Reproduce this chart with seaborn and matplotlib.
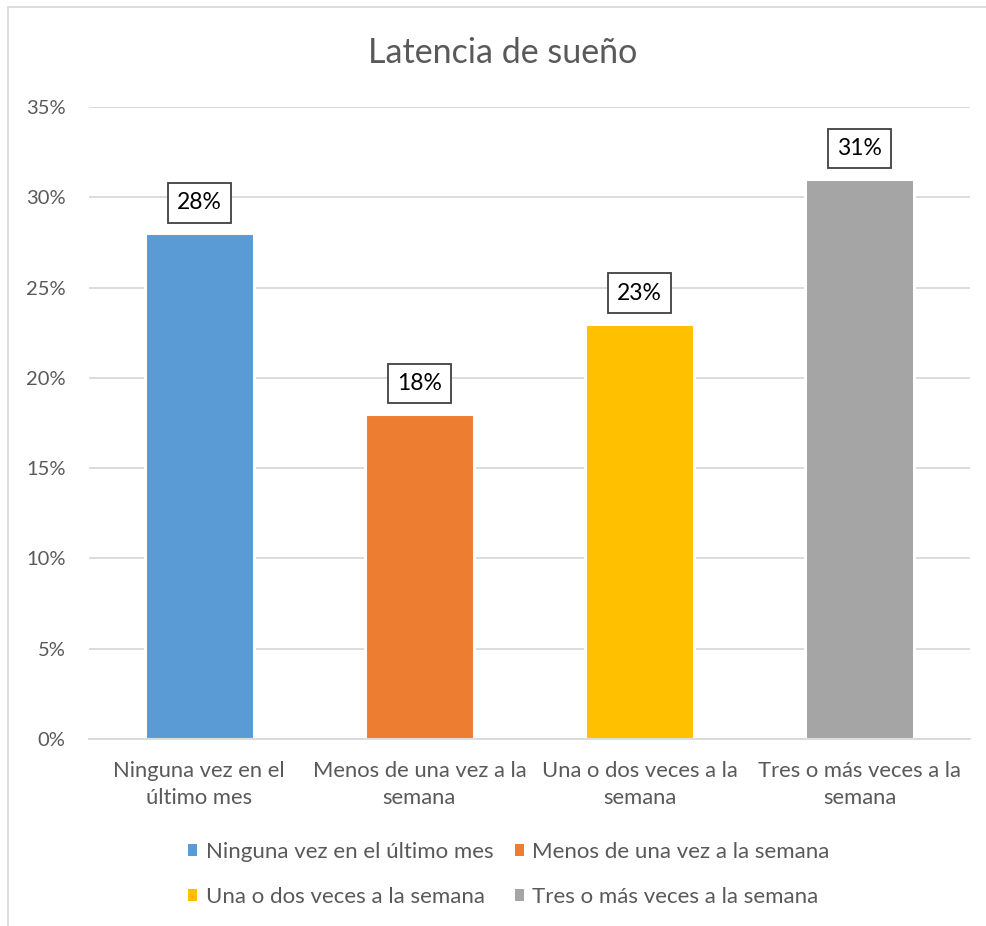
import matplotlib
matplotlib.use("Agg")
import matplotlib.pyplot as plt
from matplotlib.patches import Patch
from matplotlib.lines import Line2D
from matplotlib.ticker import PercentFormatter, FixedLocator
import seaborn as sns
import pandas as pd

categories = [
    "Ninguna vez en el último mes",
    "Menos de una vez a la semana",
    "Una o dos veces a la semana",
    "Tres o más veces a la semana",
]
tick_labels = [
    "Ninguna vez en el\núltimo mes",
    "Menos de una vez a la\nsemana",
    "Una o dos veces a la\nsemana",
    "Tres o más veces a la\nsemana",
]
values = [0.28, 0.18, 0.23, 0.31]
colors = ["#5B9BD5", "#ED7D31", "#FFC000", "#A5A5A5"]
title = "Latencia de sueño"

sns.set_theme(style="white")
plt.rcParams["font.family"] = ["Lato", "DejaVu Sans"]

df = pd.DataFrame({"cat": categories, "val": values})

W, H = 987, 926
fig = plt.figure(figsize=(W / 100, H / 100), dpi=100)
fig.patch.set_facecolor("white")

# plot area in pixel coordinates
left, right, top, bottom = 89, 970, 107, 739
ax = fig.add_axes([left / W, 1 - bottom / H, (right - left) / W, (bottom - top) / H])

sns.barplot(data=df, x="cat", y="val", hue="cat", palette=colors,
            width=0.495, dodge=False, legend=False, ax=ax,
            edgecolor="white", linewidth=2.2, saturation=1)

ax.set_ylim(0, 0.35)
ax.set_xlim(-0.5, len(categories) - 0.5)
ax.yaxis.set_major_locator(FixedLocator([i * 0.05 for i in range(8)]))
ax.yaxis.set_major_formatter(PercentFormatter(1.0, decimals=0))
ax.yaxis.grid(True, color="#D9D9D9", linewidth=1.3)
ax.set_axisbelow(True)
for s in ["left", "right", "top"]:
    ax.spines[s].set_visible(False)
ax.spines["bottom"].set_color("#D9D9D9")
ax.spines["bottom"].set_linewidth(1.3)

ax.set_xticks(range(len(categories)))
ax.set_xticklabels(tick_labels, fontsize=15.8, color="#595959", linespacing=1.45)
ax.set_xticks([i - 0.5 for i in range(len(categories) + 1)], minor=True)
ax.tick_params(axis="x", which="major", length=0, pad=15.5)
ax.tick_params(axis="x", which="minor", length=7, color="#D9D9D9", width=1.3, direction="out")
ax.tick_params(axis="y", length=0, labelsize=14.5, labelcolor="#595959", pad=17)
ax.set_xlabel("")
ax.set_ylabel("")

# value labels in boxes above each bar
for i, v in enumerate(values):
    ax.annotate(f"{v * 100:.0f}%", xy=(i, v), xytext=(0, 22), textcoords="offset points",
                ha="center", va="center", fontsize=16.5, color="black",
                bbox=dict(boxstyle="square,pad=0.4", facecolor="white",
                          edgecolor="#404040", linewidth=1.3))

fig.text(503 / W, 1 - 53 / H, title, ha="center", va="center",
         fontsize=24.5, color="#595959")

# legend rows: first two series on top, last two below
order = [0, 2, 1, 3]
handles = [Patch(facecolor=colors[k], edgecolor="none") for k in order]
labels = [categories[k] for k in order]
fig.legend(handles, labels, loc="center", bbox_to_anchor=(509 / W, 1 - 874.5 / H),
           ncol=2, frameon=False, fontsize=16, labelcolor="#595959",
           handlelength=0.42, handleheight=0.42, handletextpad=0.38,
           columnspacing=0.95, labelspacing=1.12)

# chart frame (left and top edges)
fig.add_artist(Line2D([8 / W, 8 / W], [0, 1 - 7 / H], transform=fig.transFigure,
                      color="#D9D9D9", linewidth=1.3))
fig.add_artist(Line2D([8 / W, 1], [1 - 7 / H, 1 - 7 / H], transform=fig.transFigure,
                      color="#D9D9D9", linewidth=1.3))

fig.savefig("out.png", dpi=100, facecolor="white")
